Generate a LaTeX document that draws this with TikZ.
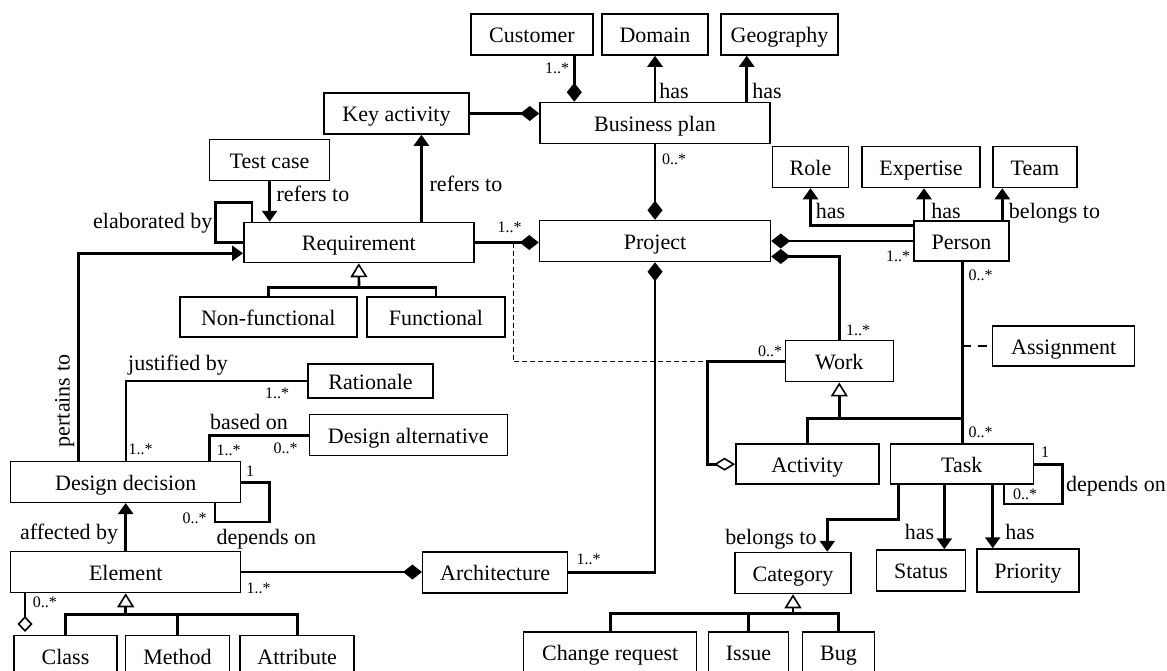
\documentclass[tikz,border=0pt]{standalone}
\usepackage{fontspec}
\setmainfont{Liberation Serif}
\usetikzlibrary{arrows.meta}
\begin{document}
\begin{tikzpicture}[x=1pt,y=-1pt,
  cls/.style={draw, line width=1.5pt, inner sep=0pt, text height=16.6pt, text depth=0pt,
    font=\fontsize{22}{26}\selectfont},
  lbl/.style={inner sep=0pt, text height=15pt, text depth=0pt, font=\fontsize{22}{26}\selectfont},
  mult/.style={inner sep=0pt, text height=10.8pt, text depth=0pt, font=\fontsize{16}{18}\selectfont},
  link/.style={line width=2.6pt},
  nav/.style={link, -{Triangle[length=11pt,width=15pt]}},
  compo/.style={link, -{Diamond[length=19pt,width=15pt]}},
  compostart/.style={link, {Diamond[length=19pt,width=15pt]}-},
  aggr/.style={link, -{Diamond[open,length=21pt,width=13pt,line width=1.6pt]}},
  aggrshort/.style={link, -{Diamond[open,length=16pt,width=15pt,line width=1.6pt]}},
  gen/.style={link, -{Triangle[open,length=14pt,width=17pt,line width=1.6pt]}},
  assoc/.style={line width=1pt, dash pattern=on 5pt off 3pt},
  assocdash/.style={link, dash pattern=on 9pt off 7pt},
]
\clip (0,0) rectangle (1167,670);

% classes
\node[cls, minimum width=122pt, minimum height=41pt] (cust) at (532,34.5) {Customer};
\node[cls, minimum width=106pt, minimum height=41pt] (dom) at (655,34.5) {Domain};
\node[cls, minimum width=117pt, minimum height=41pt] (geo) at (779.5,34.5) {Geography};
\node[cls, minimum width=145pt, minimum height=41pt] (key) at (396.5,113.5) {Key activity};
\node[cls, minimum width=230pt, minimum height=41pt] (bp) at (655,123) {Business plan};
\node[cls, minimum width=120pt, minimum height=41pt] (test) at (269.5,160) {Test case};
\node[cls, minimum width=76pt, minimum height=41pt] (role) at (810.5,167) {Role};
\node[cls, minimum width=118pt, minimum height=41pt] (exp) at (921,167) {Expertise};
\node[cls, minimum width=84pt, minimum height=41pt] (team) at (1035,167) {Team};
\node[cls, minimum width=230pt, minimum height=40pt] (req) at (358.8,242.5) {Requirement};
\node[cls, minimum width=231pt, minimum height=41pt] (proj) at (655,241) {Project};
\node[cls, minimum width=95pt, minimum height=40pt] (person) at (961.5,241) {Person};
\node[cls, minimum width=177pt, minimum height=40pt] (nonf) at (268.3,317) {Non-functional};
\node[cls, minimum width=138pt, minimum height=40pt] (func) at (436,317) {Functional};
\node[cls, minimum width=142pt, minimum height=40pt] (assign) at (1063.7,346) {Assignment};
\node[cls, minimum width=108pt, minimum height=41pt] (work) at (839.3,361.2) {Work};
\node[cls, minimum width=125pt, minimum height=34pt] (rat) at (370.5,381) {Rationale};
\node[cls, minimum width=198pt, minimum height=41pt] (dalt) at (408.3,435.2) {Design alternative};
\node[cls, minimum width=230pt, minimum height=41pt] (dd) at (125.7,481.8) {Design decision};
\node[cls, minimum width=143pt, minimum height=40pt] (act) at (807.3,464.2) {Activity};
\node[cls, minimum width=143pt, minimum height=40pt] (task) at (961.8,464.2) {Task};
\node[cls, minimum width=230pt, minimum height=41pt] (elem) at (125.7,572) {Element};
\node[cls, minimum width=145pt, minimum height=41pt] (arch) at (495.2,572.3) {Architecture};
\node[cls, minimum width=116pt, minimum height=41pt] (cat) at (793,573) {Category};
\node[cls, minimum width=89pt, minimum height=41pt] (status) at (921,570.5) {Status};
\node[cls, minimum width=102pt, minimum height=43pt] (prio) at (1027.9,570.5) {Priority};
\node[cls, minimum width=103pt, minimum height=41pt] (class) at (65.5,656) {Class};
\node[cls, minimum width=104pt, minimum height=41pt] (method) at (177.5,656) {Method};
\node[cls, minimum width=114pt, minimum height=41pt] (attr) at (297.2,656) {Attribute};
\node[cls, minimum width=173pt, minimum height=41pt] (cr) at (610.2,652.5) {Change request};
\node[cls, minimum width=80pt, minimum height=41pt] (issue) at (748.5,652.5) {Issue};
\node[cls, minimum width=72pt, minimum height=41pt] (bug) at (838.5,652.5) {Bug};

% helper points on bends and free ends
\coordinate (aggc) at (707.3,361.2);
\coordinate (elagg) at (25,632);
\coordinate (asgn) at (962.3,346);

% business plan
\draw[compo] (574.3,0 |- cust.south) -- (574.3,0 |- bp.north);
\draw[nav] (bp.north) -- (dom.south);
\draw[nav] (746.7,0 |- bp.north) -- (746.7,0 |- geo.south);
\draw[compo] (key.east) -- (key.east -| bp.west);
\draw[compo] (bp.south) -- (proj.north);

% requirement
\draw[nav] (269.6,0 |- test.south) -- (269.6,0 |- req.north);
\draw[nav] (421.4,0 |- req.north) -- (421.4,0 |- key.south);
\draw[link] (251.8,0 |- req.north) -- (251.8,202.7) -- (215.4,202.7) -- (215.4,0 |- req.west) -- (req.west);
\draw[nav] (78.5,0 |- dd.north) -- (78.5,253.3) -- (req.west |- 0,253.3);
\draw[compo] (req.east) -- (req.east -| proj.west);
\draw[gen] (359,287.3) -- (req.south);
\draw[link] (nonf.north) |- (func.north |- 0,287.3) -- (func.north);
\draw[assoc] (513,0 |- req.east) -- (513,361.2) -- (aggc);

% person and work
\draw[compo] (person.west) -- (person.west -| proj.east);
\draw[compo] (work.north) -- (839.3,256.5) -- (proj.east |- 0,256.5);
\draw[nav] (person.west |- 0,225.7) -- (role.south |- 0,225.7) -- (role.south);
\draw[nav] (924,0 |- person.north) -- (924,0 |- exp.south);
\draw[nav] (1002.3,0 |- person.north) -- (1002.3,0 |- team.south);
\draw[link] (962.3,0 |- person.south) -- (962.3,0 |- task.north);
\draw[assocdash] (asgn) -- (assign.west);
\draw[aggr] (work.west) -- (aggc) -- (707.3,0 |- act.west) -- (act.west);
\draw[gen] (work.south |- 0,418.7) -- (work.south);
\draw[link] (act.north) |- (962.3,418.7);

% task
\draw[link] (task.east |- 0,464.3) -- (1062.7,464.3) -- (1062.7,504) -- (1004,504) -- (1004,0 |- task.south);
\draw[nav] (898.3,0 |- task.south) -- (898.3,519.3) -- (827.3,519.3) -- (827.3,0 |- cat.north);
\draw[nav] (944.3,0 |- task.south) -- (944.3,0 |- status.north);
\draw[nav] (992.7,0 |- task.south) -- (992.7,0 |- prio.north);
\draw[gen] (cat.south |- 0,613.3) -- (cat.south);
\draw[link] (cr.north) |- (bug.north |- 0,613.3) -- (bug.north);
\draw[link] (issue.north) -- (issue.north |- 0,613.3);

% architecture and design
\draw[compostart] (proj.south) -- (655,0 |- arch.east) -- (arch.east);
\draw[compo] (elem.east) -- (elem.east -| arch.west);
\draw[nav] (elem.north) -- (dd.south);
\draw[link] (126,0 |- dd.north) -- (126,381) -- (rat.west);
\draw[link] (209.3,0 |- dd.north) -- (209.3,0 |- dalt.west) -- (dalt.west);
\draw[link] (dd.east |- 0,482.3) -- (269.3,482.3) -- (269.3,522) -- (215,522) -- (215,0 |- dd.south);
\draw[gen] (elem.south |- 0,614.3) -- (elem.south);
\draw[link] (class.north) |- (attr.north |- 0,614.3) -- (attr.north);
\draw[link] (method.north) -- (method.north |- 0,614.3);
\draw[aggrshort] (25,0 |- elem.south) -- (elagg);

% association names
\node[lbl] (t1) at (674,90.7) {has};
\node[lbl] (t2) at (767,90.7) {has};
\node[lbl] (t3) at (313,194.3) {refers to};
\node[lbl] (t4) at (466,184.3) {refers to};
\node[lbl, anchor=east] (t5) at (212.5,220.7) {elaborated by};
\node[lbl] (t6) at (830.5,210.7) {has};
\node[lbl] (t7) at (946,210.7) {has};
\node[lbl] (t8) at (1054.5,210.7) {belongs to};
\node[lbl, rotate=90] (t9) at (62,401) {pertains to};
\node[lbl] (t10) at (178,363.3) {justified by};
\node[lbl] (t11) at (249,422.3) {based on};
\node[lbl] (t12) at (266.3,536.7) {depends on};
\node[lbl, anchor=east] (t13) at (118.3,532.3) {affected by};
\node[lbl, anchor=east] (t14) at (816.7,536.7) {belongs to};
\node[lbl] (t15) at (919.5,531.7) {has};
\node[lbl] (t16) at (1020,531.7) {has};
\node[lbl, anchor=west] (t17) at (1066,484) {depends on};

% multiplicities
\node[mult] (m1) at (557,68.3) {1..*};
\node[mult] (m2) at (674,159.3) {0..*};
\node[mult] (m3) at (509.5,227.3) {1..*};
\node[mult] (m4) at (898,256) {1..*};
\node[mult] (m5) at (980.5,275) {0..*};
\node[mult] (m6) at (858,330) {1..*};
\node[mult] (m7) at (770,351.5) {0..*};
\node[mult] (m8) at (980.5,431.7) {0..*};
\node[mult] (m9) at (1045,451.7) {1};
\node[mult] (m10) at (1025,494.3) {0..*};
\node[mult] (m11) at (277,393.3) {1..*};
\node[mult] (m12) at (140.5,449) {1..*};
\node[mult] (m13) at (228.7,450) {1..*};
\node[mult] (m14) at (285.5,448.3) {0..*};
\node[mult] (m15) at (250,471) {1};
\node[mult] (m16) at (194.7,517.7) {0..*};
\node[mult] (m17) at (258.7,588.3) {1..*};
\node[mult] (m18) at (44.8,602.3) {0..*};
\node[mult] (m19) at (588.7,559.3) {1..*};
\end{tikzpicture}
\end{document}
